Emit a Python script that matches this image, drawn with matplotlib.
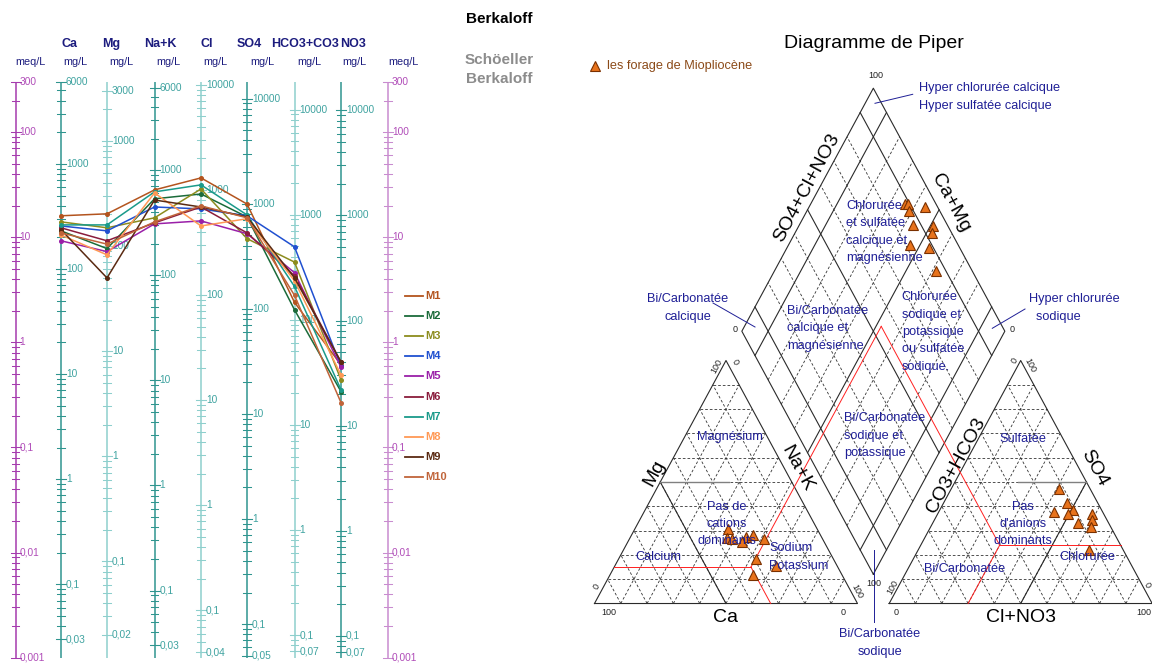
import numpy as np
import matplotlib
matplotlib.use("Agg")
import matplotlib.pyplot as plt

plt.rcParams['font.family'] = ['Liberation Sans', 'DejaVu Sans']

W, H = 1152, 663

# ---------------- Schoeller-Berkaloff data (meq/L) ----------------
ions = ['Ca', 'Mg', 'Na+K', 'Cl', 'SO4', 'HCO3+CO3', 'NO3']
eq_weight = [20.04, 12.15, 23.0, 35.45, 48.03, 61.02, 62.0]
sample_names = ['M1', 'M2', 'M3', 'M4', 'M5', 'M6', 'M7', 'M8', 'M9', 'M10']
M1 = [16.0, 16.7, 28.2, 36.7, 20.7, 2.4, 0.61]
M2 = [11.5, 7.8, 23.2, 25.8, 15.6, 2.04, 0.34]
M3 = [14.0, 12.3, 15.3, 28.8, 9.7, 5.8, 0.44]
M4 = [12.8, 11.5, 19.4, 18.6, 16.0, 8.1, 0.59]
M5 = [9.25, 7.3, 13.4, 14.3, 10.8, 4.6, 0.58]
M6 = [12.3, 9.25, 13.7, 19.4, 11.0, 4.3, 0.65]
M7 = [13.1, 13.1, 27.0, 31.5, 16.3, 3.4, 0.354]
M8 = [10.5, 6.8, 26.4, 12.8, 15.0, 3.85, 0.49]
M9 = [11.8, 4.1, 22.6, 19.4, 15.6, 4.1, 0.65]
M10 = [11.0, 8.6, 14.0, 19.9, 15.3, 2.8, 0.267]
series = [M1, M2, M3, M4, M5, M6, M7, M8, M9, M10]
series_colors = ['#b3541e', '#1b6b3a', '#8c8c1e', '#2050d0', '#9a20a8',
                 '#8a1c3c', '#1a9a8a', '#ff9955', '#5a2a12', '#c0643a']
top_labels = [6000, 3000, 6000, 10000, 10000, 10000, 10000]
bottom_labels = [0.03, 0.02, 0.03, 0.04, 0.05, 0.07, 0.07]
meq_labels = [300, 100, 10, 1, 0.1, 0.01, 0.001]

# ---------------- Piper data (% of meq) ----------------
Ca_pct = [33.9, 36.1, 34.6, 28.8, 31.3, 22.3, 29.6, 25.8, 34.0, 23.3]
Mg_pct = [30.5, 26.8, 26.4, 27.2, 25.4, 26.5, 18.3, 28.2, 11.8, 15.4]
NaK_pct = [35.6, 37.1, 39.0, 44.0, 43.3, 51.2, 52.1, 46.0, 54.2, 61.3]
HCO3_pct = [11.9, 10.7, 11.6, 4.7, 12.9, 5.5, 7.3, 18.5, 11.6, 13.8]
SO4_pct = [47.0, 38.5, 41.2, 36.7, 22.0, 34.4, 31.6, 37.5, 33.0, 36.7]
Cl_pct = [41.1, 50.8, 47.2, 58.6, 65.1, 60.1, 61.1, 44.0, 55.4, 49.5]
# reference (red) limits
red_cation = [33.0, 15.0, 52.0]   # Ca, Mg, Na+K
red_anion = [46.0, 24.0, 30.0]    # HCO3, SO4, Cl

fig = plt.figure(figsize=(W / 100, H / 100), dpi=100)


def T(x, y, s, **kw):
    return fig.text(x / W, 1 - y / H, s, **kw)


def fmt(v):
    if v >= 1:
        return str(int(round(v)))
    return ('%g' % v).replace('.', ',')


# ======================= LEFT : Schoeller =======================
axL = fig.add_axes([0, 0, 580 / W, 1])
axL.set_xlim(0, 580)
axL.set_yscale('log')
axL.set_ylim(10 ** -3.0512, 10 ** 3.2573)
axL.axis('off')

ion_x = [61, 107, 154.5, 201, 247, 294.5, 341]
meq_left_x, meq_right_x = 15.5, 388
teal_dark, teal_light, teal_txt = '#2f958f', '#8ecfcd', '#3fa3a0'
purple_dark, purple_light, purple_txt = '#a53bae', '#c98ccf', '#b04cb8'


def draw_meq_axis(x, col, tcol):
    axL.plot([x, x], [0.001, 300], color=col, lw=1.1, solid_capstyle='butt')
    for k in range(-3, 3):
        for m in range(1, 10):
            v = m * 10.0 ** k
            if v > 300 * 1.0001:
                continue
            w = 5 if m == 1 else 3.8
            axL.plot([x - w, x + w], [v, v], color=col, lw=0.75)
    axL.plot([x - 5, x + 5], [300, 300], color=col, lw=0.75)
    for v in meq_labels:
        axL.text(x + 4, v, fmt(v), color=tcol, fontsize=7.3, va='center', ha='left')


draw_meq_axis(meq_left_x, purple_dark, purple_txt)
draw_meq_axis(meq_right_x, purple_light, purple_txt)

for i, (x, f) in enumerate(zip(ion_x, eq_weight)):
    col = teal_dark if i % 2 == 0 else teal_light
    axL.plot([x, x], [0.001, 300], color=col, lw=1.1, solid_capstyle='butt')
    lo, hi = 0.001 * f, 300 * f
    for k in range(-3, 6):
        for m in range(1, 10):
            v = m * 10.0 ** k
            if v < lo * 0.9999 or v > hi * 1.0001:
                continue
            w = 5 if m == 1 else 3.8
            axL.plot([x - w, x + w], [v / f, v / f], color=col, lw=0.75)
    labs = set()
    for k in range(-3, 6):
        v = 10.0 ** k
        if lo <= v <= hi:
            labs.add(v)
    labs.add(top_labels[i])
    labs.add(bottom_labels[i])
    for v in labs:
        axL.plot([x - 5, x + 5], [v / f, v / f], color=col, lw=0.75)
        axL.text(x + 5, v / f, fmt(v), color=teal_txt, fontsize=7.3, va='center', ha='left')

for name, vals, c in zip(sample_names, series, series_colors):
    axL.plot(ion_x, vals, color=c, lw=1.1, marker='o', ms=2.6, mec=c, mfc=c, zorder=5)

# headers
hdr_x = [70, 111, 160, 207, 249, 305, 353]
for x, s in zip(hdr_x, ions):
    T(x, 44, s, color='#1c1c7e', fontsize=9, fontweight='bold', ha='center', va='center')
unit_x = [75, 121, 168, 215, 262, 309, 354]
T(30, 62, 'meq/L', color='#1c1c7e', fontsize=7.8, ha='center', va='center')
T(403, 62, 'meq/L', color='#1c1c7e', fontsize=7.8, ha='center', va='center')
for x in unit_x:
    T(x, 62, 'mg/L', color='#1c1c7e', fontsize=7.8, ha='center', va='center')

T(499, 19, 'Berkaloff', color='black', fontsize=11, fontweight='bold', ha='center', va='center')
T(499, 60, 'Schöeller', color='#8c8c8c', fontsize=11, fontweight='bold', ha='center', va='center')
T(499, 79, 'Berkaloff', color='#8c8c8c', fontsize=11, fontweight='bold', ha='center', va='center')

# legend
for j, (name, c) in enumerate(zip(sample_names, series_colors)):
    y = 296 + j * 20.1
    fig.add_artist(plt.Line2D([405 / W, 423 / W], [1 - y / H, 1 - y / H], color=c, lw=1.3))
    T(425.5, y, name, color=c, fontsize=8, fontweight='bold', ha='left', va='center')

# ======================= RIGHT : Piper =======================
axP = fig.add_axes([580 / W, 0, 572 / W, 1])
axP.set_xlim(-0.0551, 2.1198)
axP.set_ylim(-0.2120, 2.1508)
axP.axis('off')

h = np.sqrt(3) / 2
g = 0.1205
Bx, By = 1 + g / 2, g * h


def cat_xy(ca, mg, na):
    return na + mg / 2, mg * h


def an_xy(hco3, so4, cl):
    return 1 + g + cl + so4 / 2, so4 * h


def dia_xy(camg, so4cl):
    return Bx - camg / 2 + so4cl / 2, By + (camg + so4cl) * h


dash = dict(color='#333333', lw=0.6, ls=(0, (3.2, 2.4)), clip_on=False)
solid = dict(color='#2a2a2a', lw=0.8, clip_on=False)

for i in range(1, 10):
    f = i / 10
    for o in (0, 1 + g):
        axP.plot([o + f / 2, o + 1 - f / 2], [f * h, f * h], **dash)
        axP.plot([o + f, o + f + (1 - f) / 2], [0, (1 - f) * h], **dash)
        axP.plot([o + 1 - f, o + (1 - f) / 2], [0, (1 - f) * h], **dash)
    sty = solid if i in (1, 5, 9) else dash
    p0, p1 = dia_xy(f, 0), dia_xy(f, 1)
    axP.plot([p0[0], p1[0]], [p0[1], p1[1]], **sty)
    p0, p1 = dia_xy(0, f), dia_xy(1, f)
    axP.plot([p0[0], p1[0]], [p0[1], p1[1]], **sty)

for o in (0, 1 + g):
    axP.plot([o, o + 1, o + 0.5, o], [0, 0, h, 0], **solid)
dv = [dia_xy(0, 0), dia_xy(1, 0), dia_xy(1, 1), dia_xy(0, 1), dia_xy(0, 0)]
axP.plot([p[0] for p in dv], [p[1] for p in dv], **solid)

# dominance boundaries (Ca = 50 % and Cl = 50 %)
axP.plot([0.25, 0.5], [0.5 * h, 0], **solid)
axP.plot([1 + g + 0.75, 1 + g + 0.5], [0.5 * h, 0], **solid)

# gray 50% lines
gray = dict(color='#808080', lw=1.0, clip_on=False)
axP.plot([0.25, 0.26 + 0.25], [0.5 * h, 0.5 * h], **gray)
x0, _ = an_xy(0.26, 0.5, 0.24)
x1, _ = an_xy(0.0, 0.5, 0.5)
axP.plot([x0, x1], [0.5 * h, 0.5 * h], **gray)

# red limit lines
red = dict(color='#ff2020', lw=0.7, clip_on=False)
rc, rm, rn = [v / 100 for v in red_cation]
P = cat_xy(rc, rm, rn)
axP.plot([rm / 2, P[0]], [P[1], P[1]], **red)
axP.plot([P[0], 1 - rc], [P[1], 0], **red)
ra_h, ra_s, ra_c = [v / 100 for v in red_anion]
Q = an_xy(ra_h, ra_s, ra_c)
axP.plot([Q[0], 1 + g + 1 - ra_s / 2], [Q[1], Q[1]], **red)
axP.plot([Q[0], 1 + g + ra_c], [Q[1], 0], **red)
R = dia_xy(1 - rn, 1 - ra_h)
axP.plot([P[0], R[0]], [P[1], R[1]], **red)
axP.plot([Q[0], R[0]], [Q[1], R[1]], **red)

# sample points
mk = dict(marker='^', ms=7.5, mfc='#e8731c', mec='#7a3000', mew=0.8, ls='none', zorder=6, clip_on=False)
ca = np.array(Ca_pct) / 100
mg = np.array(Mg_pct) / 100
na = np.array(NaK_pct) / 100
hc = np.array(HCO3_pct) / 100
so = np.array(SO4_pct) / 100
cl = np.array(Cl_pct) / 100
cx, cy = cat_xy(ca, mg, na)
ax_, ay_ = an_xy(hc, so, cl)
dx, dy = dia_xy(1 - na, 1 - hc)
axP.plot(cx, cy, **mk)
axP.plot(ax_, ay_, **mk)
axP.plot(dx, dy, **mk)

# title & legend
T(874, 43, 'Diagramme de Piper', fontsize=14, ha='center', va='center', color='black')
fig.add_artist(plt.Line2D([594.6 / W], [1 - 66 / H], marker='^', ms=7, mfc='#e8731c',
                          mec='#7a3000', mew=0.8, ls='none'))
T(607, 66, 'les forage de Miopliocène', fontsize=9.2, color='#8b4a18', ha='left', va='center')

# axis names
ang = np.degrees(np.arctan2(243, 131.5))
big = dict(fontsize=14, color='black', ha='center', va='center', rotation_mode='anchor')
T(806.5, 188.3, 'SO4+Cl+NO3', rotation=ang, **big)
T(950.3, 202.5, 'Ca+Mg', rotation=-ang, **big)
T(654.8, 473.3, 'Mg', rotation=ang, **big)
T(797, 468.3, 'Na+K', rotation=-ang, **big)
T(955.8, 465, 'CO3+HCO3', rotation=ang, **big)
T(1094.4, 468.3, 'SO4', rotation=-ang, **big)
T(726, 617, 'Ca', **big)
T(1020.7, 617, 'Cl+NO3', **big)

# small scale labels
sm = dict(fontsize=6.5, color='#222222', ha='center', va='center', rotation_mode='anchor')
T(608.5, 612.7, '100', **sm)
T(842.7, 612.7, '0', **sm)
T(596.4, 586.7, '0', rotation=ang, **sm)
T(716.5, 366, '100', rotation=ang, **sm)
T(735, 361.7, '0', rotation=-ang, **sm)
T(857.3, 591.7, '100', rotation=-ang, **sm)
T(896.5, 612.7, '0', **sm)
T(1143.7, 612.7, '100', **sm)
T(893, 587.5, '100', rotation=ang, **sm)
T(1014.5, 360.7, '0', rotation=ang, **sm)
T(1030, 365, '100', rotation=-ang, **sm)
T(1147, 585, '0', rotation=-ang, **sm)
T(875.5, 75, '100', **sm)
T(735, 330, '0', **sm)
T(1012.3, 330, '0', **sm)
T(873.7, 583.5, '100', **sm)

# region labels
nv = '#1f1f96'
reg = dict(fontsize=9.2, color=nv, linespacing=1.6)
T(919, 97, 'Hyper chlorurée calcique\nHyper sulfatée calcique', ha='left', va='center', **reg)
T(688, 308, 'Bi/Carbonatée\ncalcique', ha='center', va='center', multialignment='center', **reg)
T(1029, 308, 'Hyper chlorurée\n  sodique', ha='left', va='center', **reg)
T(846, 232, 'Chlorurée\net sulfatée\ncalcique et\nmagnésienne', ha='left', va='center', **reg)
T(787, 328.5, 'Bi/Carbonatée\ncalcique et\nmagnésienne', ha='left', va='center', **reg)
T(901.7, 332, 'Chlorurée\nsodique et\npotassique\nou sulfatée\nsodique.', ha='left', va='center', **reg)
T(844, 435.5, 'Bi/Carbonatée\nsodique et\npotassique', ha='left', va='center', **reg)
T(729.6, 437.3, 'Magnésium', ha='center', va='center', **reg)
T(727, 524, 'Pas de\ncations\ndominants', ha='center', va='center', **reg)
T(658.4, 557.3, 'Calcium', ha='center', va='center', **reg)
T(769, 557, 'Sodium\nPotassium', ha='left', va='center', **reg)
T(1023.3, 439, 'Sulfatée', ha='center', va='center', **reg)
T(1023.3, 524, "Pas\nd'anions\ndominants", ha='center', va='center', **reg)
T(1087.8, 557.3, 'Chlorurée', ha='center', va='center', **reg)
T(964.9, 569.3, 'Bi/Carbonatée', ha='center', va='center', **reg)
T(880, 643, 'Bi/Carbonatée\nsodique', ha='center', va='center', multialignment='center', **reg)

# pointer lines (navy)
for (x0, y0, x1, y1) in [(875, 103.3, 912.7, 94.3), (713, 303, 755, 327),
                         (1025, 309, 992.3, 328.3), (873.7, 550, 873.7, 621.7)]:
    fig.add_artist(plt.Line2D([x0 / W, x1 / W], [1 - y0 / H, 1 - y1 / H], color=nv, lw=0.7))

fig.savefig('out.png', dpi=100)
